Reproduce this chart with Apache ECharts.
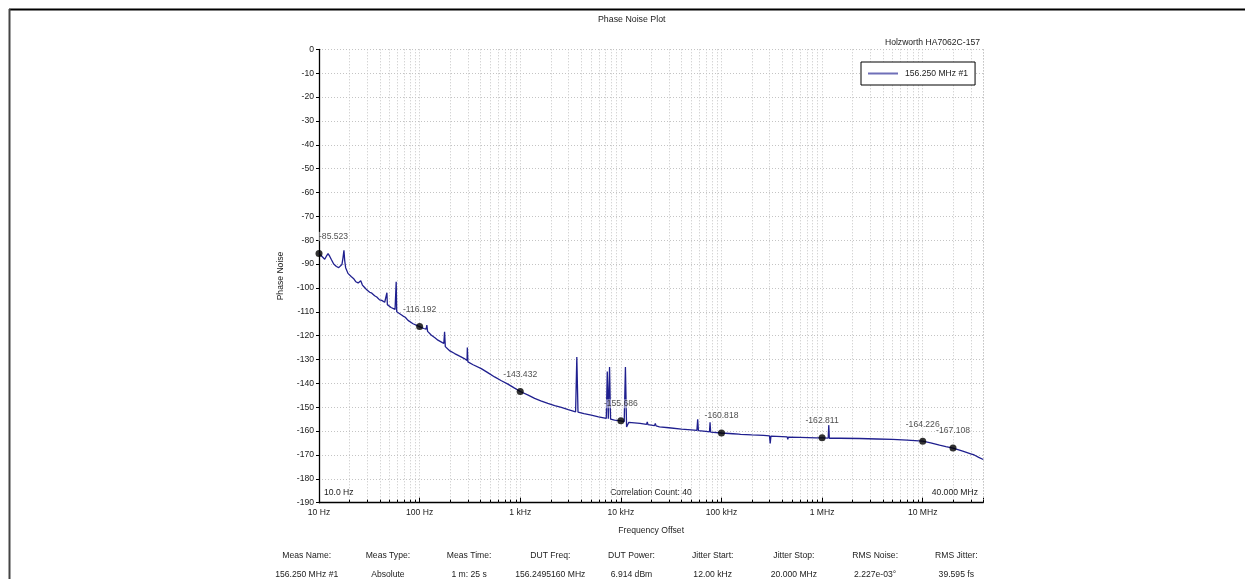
<!DOCTYPE html>
<html><head><meta charset="utf-8">
<script src="https://cdn.jsdelivr.net/npm/echarts@6/dist/echarts.min.js"></script>
<style>html,body{margin:0;padding:0;background:#fff;}#c{width:1245px;height:579px;}</style>
</head><body><div id="c"></div>
<script>
// ---- data ----
const seriesName = '156.250 MHz #1';
const freqHz = [
  10, 10.3, 10.6, 11.0, 11.4, 11.8, 12.3, 12.8, 13.3, 14.0, 14.9, 15.7, 16.4, 16.9, 17.3, 17.7, 18.0, 18.4, 19.4,
  21, 22, 23.2, 24.5, 25.4, 26, 27, 28.4, 30, 31.9, 33.5, 35.7, 37.5, 40, 42, 45, 46.8, 47.3, 47.8,
  50, 52, 54.4, 57, 57.8, 58.5, 59.2, 61, 64, 68.5, 72, 76.7, 80, 86, 90, 96,
  100, 105, 110, 116, 118, 120, 131, 142, 152, 165, 174, 177, 180, 184, 200, 223, 250, 278, 296, 298, 302,
  340, 410, 480, 556, 650, 754, 870, 1000,
  1200, 1390, 1600, 1880, 2200, 2560, 3000, 3550, 3650, 3750, 4300, 5080, 6000, 7160, 7330, 7500, 7720, 7900, 8650,
  10000, 10800, 11100, 11400, 12000, 15500, 18000, 18300, 18600, 21600, 22000, 22400, 24200, 30000, 40000, 50000,
  57000, 58000, 59000, 70000, 76000, 77000, 78000, 100000,
  130000, 148000, 151000, 155000, 200000, 262000, 267000, 272000, 300000, 305000, 310000, 400000, 450000, 456000, 462000,
  600000, 873000, 1000000, 1150000, 1165000, 1180000, 1500000, 2340000, 3500000, 5000000, 7000000, 10000000,
  12000000, 14700000, 17000000, 20000000, 25000000, 30000000, 31400000, 32500000, 36000000, 40000000
];
const noiseDb = [
  -85.5, -86.0, -86.6, -87.3, -88.0, -86.8, -85.6, -86.8, -88.2, -90.0, -91.0, -91.5, -91.4, -90.2, -87.5, -84.2, -88.5, -91.5, -93.9,
  -95.3, -96.0, -97.4, -97.9, -98.1, -97.0, -98.8, -99.8, -100.9, -101.8, -102.2, -103.3, -103.8, -105.0, -105.2, -106.0, -106.6, -102.0, -107.0,
  -107.6, -108.2, -108.8, -109.0, -109.4, -97.4, -110.0, -109.8, -110.9, -111.8, -112.3, -113.6, -113.8, -115.0, -115.2, -115.9,
  -116.2, -116.6, -117.0, -117.3, -115.6, -118.2, -119.8, -120.9, -121.9, -122.7, -123.3, -118.4, -124.6, -125.3, -126.4, -127.5, -128.6, -129.6, -130.4, -125.0, -131.0,
  -132.2, -133.8, -135.6, -137.3, -138.9, -140.3, -141.9, -143.4,
  -144.9, -146.3, -147.3, -148.4, -149.3, -150.1, -151.0, -151.9, -129.0, -152.0, -152.7, -153.3, -154.0, -154.7, -135.0, -154.8, -133.1, -155.0, -155.4,
  -155.7, -156.0, -133.1, -158.3, -156.3, -156.8, -157.2, -156.1, -157.3, -157.7, -156.8, -157.8, -158.2, -158.6, -159.2, -159.5,
  -159.7, -155.0, -159.8, -160.1, -160.3, -156.3, -160.4, -160.8,
  -161.1, -161.3, -162.1, -161.4, -161.6, -161.8, -161.2, -161.9, -162.0, -165.2, -162.1, -162.3, -162.4, -163.5, -162.5,
  -162.6, -162.8, -162.8, -162.9, -157.5, -163.0, -163.0, -163.1, -163.3, -163.5, -163.8, -164.2,
  -164.9, -165.9, -166.5, -167.1, -168.4, -169.5, -169.2, -170.0, -171.0, -171.9
];
const markerFreqHz = [10, 100, 1000, 10000, 100000, 1000000, 10000000, 20000000];
const markerDb = [-85.523, -116.192, -143.432, -155.686, -160.818, -162.811, -164.226, -167.108];
const xTickLabels = ['10 Hz', '100 Hz', '1 kHz', '10 kHz', '100 kHz', '1 MHz', '10 MHz'];
const minorMultipliers = [2, 3, 4, 5, 6, 7, 8, 9];
const decadeStarts = [10, 100, 1000, 10000, 100000, 1000000, 10000000];
const tableHeaders = ['Meas Name:', 'Meas Type:', 'Meas Time:', 'DUT Freq:', 'DUT Power:', 'Jitter Start:', 'Jitter Stop:', 'RMS Noise:', 'RMS Jitter:'];
const tableValues = ['156.250 MHz #1', 'Absolute', '1 m: 25 s', '156.2495160 MHz', '6.914 dBm', '12.00 kHz', '20.000 MHz', '2.227e-03\u00b0', '39.595 fs'];
const startLabel = '10.0 Hz';
const stopLabel = '40.000 MHz';
const corrLabel = 'Correlation Count: 40';
const instrument = 'Holzworth HA7062C-157';

// ---- build ----
const FF = '"Liberation Sans", Arial, sans-serif';
const FS = 8.6;
const X_MIN = 10, X_MAX = 40000000, Y_MIN = -190, Y_MAX = 0;

const minorGrid = [];
decadeStarts.forEach(d => minorMultipliers.forEach(m => { const v = d * m; if (v <= X_MAX) minorGrid.push([v, Y_MIN]); }));
minorGrid.push([X_MAX, Y_MIN]);

const lineData = freqHz.map((f, i) => [f, noiseDb[i]]);
const markerData = markerFreqHz.map((f, i) => {
  const item = { value: [f, markerDb[i]] };
  if (i === 0) item.label = { align: 'left', offset: [-1, 0] };
  return item;
});

function txt(text, x, y, align) {
  return { type: 'text', x: x, y: y, silent: true,
    style: { text: text, fill: '#222', fontSize: FS, fontFamily: FF, align: align || 'center', verticalAlign: 'middle' } };
}
const graphics = [
  { type: 'line', silent: true, shape: { x1: 9, y1: 9.5, x2: 1245, y2: 9.5 }, style: { stroke: '#000', lineWidth: 2 } },
  { type: 'line', silent: true, shape: { x1: 9.5, y1: 9, x2: 9.5, y2: 579 }, style: { stroke: '#444', lineWidth: 2 } },
  txt(instrument, 980, 42.7, 'right'),
  txt(startLabel, 324, 492.7, 'left'),
  txt(corrLabel, 651, 492.7, 'center'),
  txt(stopLabel, 978, 492.7, 'right')
];
tableHeaders.forEach((h, i) => {
  graphics.push(txt(h, 306.7 + i * 81.2, 555.7, 'center'));
  graphics.push(txt(tableValues[i], 306.7 + i * 81.2, 575, 'center'));
});

const chart = echarts.init(document.getElementById('c'), null, { renderer: 'canvas' });
chart.setOption({
  animation: false,
  backgroundColor: '#ffffff',
  textStyle: { fontFamily: FF },
  title: { text: 'Phase Noise Plot', left: 598, top: 15, padding: 0,
    textStyle: { fontSize: 8.8, fontWeight: 'normal', color: '#222', fontFamily: FF } },
  legend: {
    left: 861, top: 62, padding: [7, 7, 7, 7], itemGap: 0,
    borderColor: '#000', borderWidth: 1, backgroundColor: '#fff',
    itemWidth: 30, itemHeight: 2, icon: 'rect',
    textStyle: { fontSize: FS, color: '#222', fontFamily: FF, padding: [0, 0, 0, 2] },
    data: [{ name: seriesName, itemStyle: { color: '#6f6fb8' } }]
  },
  grid: { left: 319, right: 261.7, top: 49.3, bottom: 76.3, containLabel: false },
  xAxis: {
    type: 'log', logBase: 10, min: X_MIN, max: X_MAX,
    name: 'Frequency Offset', nameLocation: 'middle', nameGap: 23,
    nameTextStyle: { fontSize: FS, color: '#222', fontFamily: FF },
    axisLine: { show: true, onZero: false, lineStyle: { color: '#000', width: 1.3 } },
    axisTick: { show: true, inside: true, length: 5, lineStyle: { color: '#000', width: 1 } },
    minorTick: { show: false },
    axisLabel: { fontSize: FS, color: '#222', fontFamily: FF, margin: 5,
      formatter: function (v) {
        const e = Math.log10(v); const r = Math.round(e);
        if (Math.abs(e - r) > 1e-6) return '';
        return xTickLabels[r - 1] || '';
      } },
    splitLine: { show: true, lineStyle: { color: '#c4c4c4', width: 1, type: [1, 2] } }
  },
  yAxis: {
    type: 'value', min: Y_MIN, max: Y_MAX, interval: 10,
    name: 'Phase Noise', nameLocation: 'middle', nameGap: 34,
    nameTextStyle: { fontSize: FS, color: '#222', fontFamily: FF },
    axisLine: { show: true, lineStyle: { color: '#000', width: 1.3 } },
    axisTick: { show: true, inside: false, length: 3, lineStyle: { color: '#000' } },
    axisLabel: { fontSize: FS, color: '#222', fontFamily: FF, margin: 5 },
    splitLine: { show: true, lineStyle: { color: '#c4c4c4', width: 1, type: [1, 2] } }
  },
  graphic: graphics,
  series: [
    {
      type: 'custom', name: 'minorGrid', silent: true, z: 1,
      data: minorGrid, encode: { x: 0, y: 1 },
      renderItem: function (params, api) {
        const f = api.value(0);
        const t = api.coord([f, Y_MAX]);
        const b = api.coord([f, Y_MIN]);
        const x = Math.round(b[0]) + 0.5;
        return { type: 'group', children: [
          { type: 'line', shape: { x1: x, y1: t[1], x2: x, y2: b[1] }, style: { stroke: '#c4c4c4', lineWidth: 1, lineDash: [1, 2] } },
          { type: 'line', shape: { x1: x, y1: b[1], x2: x, y2: b[1] - 3 }, style: { stroke: '#000', lineWidth: 1 } }
        ] };
      }
    },
    {
      type: 'line', name: seriesName, data: lineData, showSymbol: false, symbol: 'none', z: 3,
      lineStyle: { color: '#20208f', width: 1.3 }, itemStyle: { color: '#20208f' }
    },
    {
      type: 'scatter', name: 'markers', data: markerData, symbol: 'circle', symbolSize: 7, z: 4,
      itemStyle: { color: '#000' },
      label: { show: true, position: 'top', distance: 9, fontSize: FS, color: '#222', fontFamily: FF,
        backgroundColor: 'rgba(255,255,255,0.6)', padding: [0, 1],
        formatter: function (p) { return p.value[1].toFixed(3); } }
    }
  ]
});
</script></body></html>
